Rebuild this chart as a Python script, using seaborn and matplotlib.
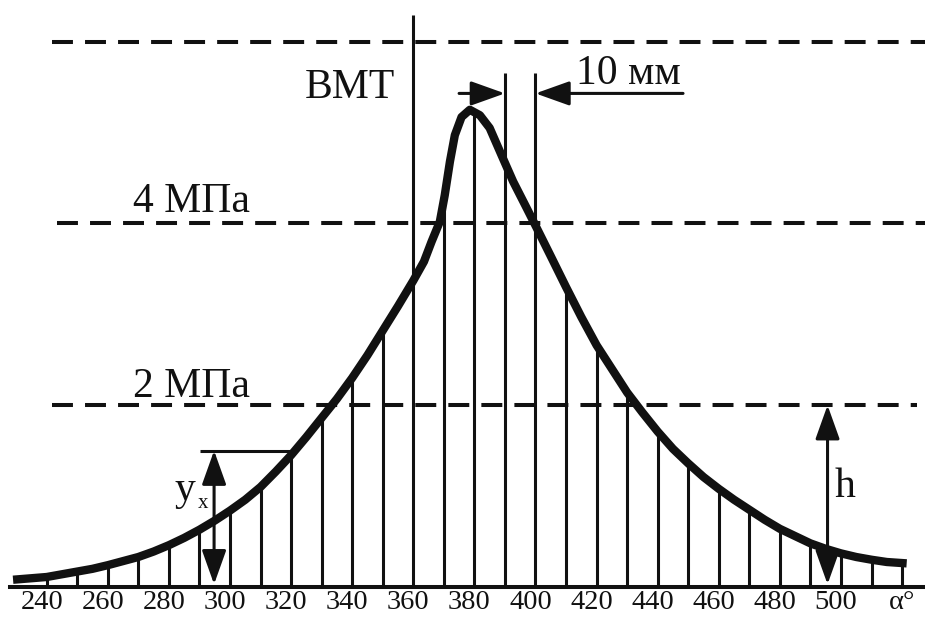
import numpy as np
import pandas as pd
import matplotlib
matplotlib.use("Agg")
import matplotlib.pyplot as plt
import seaborn as sns
from matplotlib.transforms import ScaledTranslation

# ---- data ----
curve_deg = [229, 240, 245, 250, 255, 260, 265, 270, 275, 280, 285, 290, 295, 300, 305,
             310, 315, 320, 325, 330, 335, 340, 345, 350, 355, 360,
             363.5, 366.0, 368.7, 370.3, 372.0, 373.6, 375.8, 378.5, 381.8, 385.0,
             388.9, 392.7, 397.1, 400.4, 405, 410, 415, 420, 425, 430, 435, 440, 445,
             450, 455, 460, 465, 470, 475, 480, 485, 490, 495, 500, 505, 510, 515, 521.5]
curve_p = [0.08, 0.11, 0.14, 0.17, 0.20, 0.24, 0.285, 0.33, 0.39, 0.46, 0.54, 0.63, 0.73, 0.84, 0.96,
           1.10, 1.27, 1.45, 1.65, 1.86, 2.07, 2.30, 2.55, 2.82, 3.09, 3.37,
           3.58, 3.80, 4.02, 4.31, 4.68, 4.97, 5.17, 5.25, 5.19, 5.05,
           4.75, 4.46, 4.17, 3.95, 3.64, 3.30, 2.97, 2.66, 2.40, 2.14, 1.92, 1.71, 1.52,
           1.36, 1.21, 1.08, 0.96, 0.85, 0.74, 0.64, 0.56, 0.48, 0.42, 0.37, 0.33, 0.30, 0.275, 0.26]
line_deg = list(range(240, 521, 10))
tick_vals = [240, 260, 280, 300, 320, 340, 360, 380, 400, 420, 440, 460, 480, 500, 520]
tick_labels = ["240", "260", "280", "300", "320", "340", "360", "380", "400", "420",
               "440", "460", "480", "500", "α°"]
dash_labels = {2: "2 МПа", 4: "4 МПа"}
bmt_deg = 360
dim_degs = [390, 400]
yx_deg, yx_val = 294.8, 1.50
h_deg, h_val = 495.6, 2.0

INK = "#111111"

sns.set_theme(style="white")
plt.rcParams["font.family"] = ["Liberation Serif", "DejaVu Serif"]

fig = plt.figure(figsize=(9.25, 6.21), dpi=100)
ax = fig.add_axes([10 / 925, 34 / 621, 915 / 925, 587 / 621])
ax.set_xlim(228.0, 527.5)
ax.set_ylim(0, 587 / 90.9)

# vertical ordinates up to the curve
heights = np.interp(line_deg, curve_deg, curve_p)
heights = [6.29 if d == bmt_deg else (5.65 if d in dim_degs else h) for d, h in zip(line_deg, heights)]
ax.vlines(line_deg, 0, heights, color=INK, linewidth=2.2, zorder=2)

# dashed pressure levels
dash = [(0, (5.2, 3.0))]
ax.hlines([6], 241.7, 527.5, color=INK, linewidth=2.9, linestyles=dash, zorder=1)
ax.hlines([4], 243.4, 527.5, color=INK, linewidth=2.9, linestyles=dash, zorder=1)
ax.hlines([2], 241.7, 525.0, color=INK, linewidth=2.9, linestyles=dash, zorder=1)

# pressure curve
df = pd.DataFrame({"deg": curve_deg, "p": curve_p})
sns.lineplot(data=df, x="deg", y="p", sort=False, color=INK, linewidth=6.0, ax=ax, zorder=4)
ln = ax.lines[-1]
ln.set_solid_joinstyle("round")
ln.set_solid_capstyle("butt")

# labels
ax.text(268.2, 4.12, dash_labels[4], fontsize=30, color=INK, ha="left", va="baseline")
ax.text(268.2, 2.09, dash_labels[2], fontsize=30, color=INK, ha="left", va="baseline")
ax.text(354.1, 5.38, "ВМТ", fontsize=30, color=INK, ha="right", va="baseline")
ax.text(413.3, 5.53, "10 мм", fontsize=30, color=INK, ha="left", va="baseline")
ax.text(282.0, 0.96, "y", fontsize=30, color=INK, ha="left", va="baseline")
ax.text(289.6, 0.87, "x", fontsize=15, color=INK, ha="left", va="baseline")
ax.text(498.0, 0.99, "h", fontsize=30, color=INK, ha="left", va="baseline")

style1 = "-|>,head_length=1.4,head_width=0.5"
style2 = "<|-|>,head_length=1.4,head_width=0.5"
ap = dict(mutation_scale=15, lw=2.2, color=INK, shrinkA=0, shrinkB=0)
ax.annotate("", xy=(390, 5.43), xytext=(375, 5.43), arrowprops=dict(arrowstyle=style1, **ap), zorder=5)
ax.annotate("", xy=(400, 5.43), xytext=(448.3, 5.43), arrowprops=dict(arrowstyle=style1, **ap), zorder=5)
ax.annotate("", xy=(yx_deg, yx_val), xytext=(yx_deg, 0.03), arrowprops=dict(arrowstyle=style2, **ap), zorder=5)
ax.annotate("", xy=(h_deg, h_val), xytext=(h_deg, 0.03), arrowprops=dict(arrowstyle=style2, **ap), zorder=5)
ax.hlines([yx_val], 290.2, 319.5, color=INK, linewidth=2.2, zorder=3)

# axis
ax.set_xticks(tick_vals)
ax.set_xticklabels(tick_labels, fontsize=20.5, color=INK)
ax.set_yticks([])
ax.tick_params(axis="x", length=0, pad=2)
for lab in ax.get_xticklabels()[:-1]:
    lab.set_transform(lab.get_transform() + ScaledTranslation(-5 / 100, 0, fig.dpi_scale_trans))
for s in ["top", "left", "right"]:
    ax.spines[s].set_visible(False)
ax.spines["bottom"].set_color(INK)
ax.spines["bottom"].set_linewidth(2.9)
ax.set_xlabel("")
ax.set_ylabel("")
ax.patch.set_alpha(0)

fig.savefig("out.png", dpi=100, facecolor="white")
